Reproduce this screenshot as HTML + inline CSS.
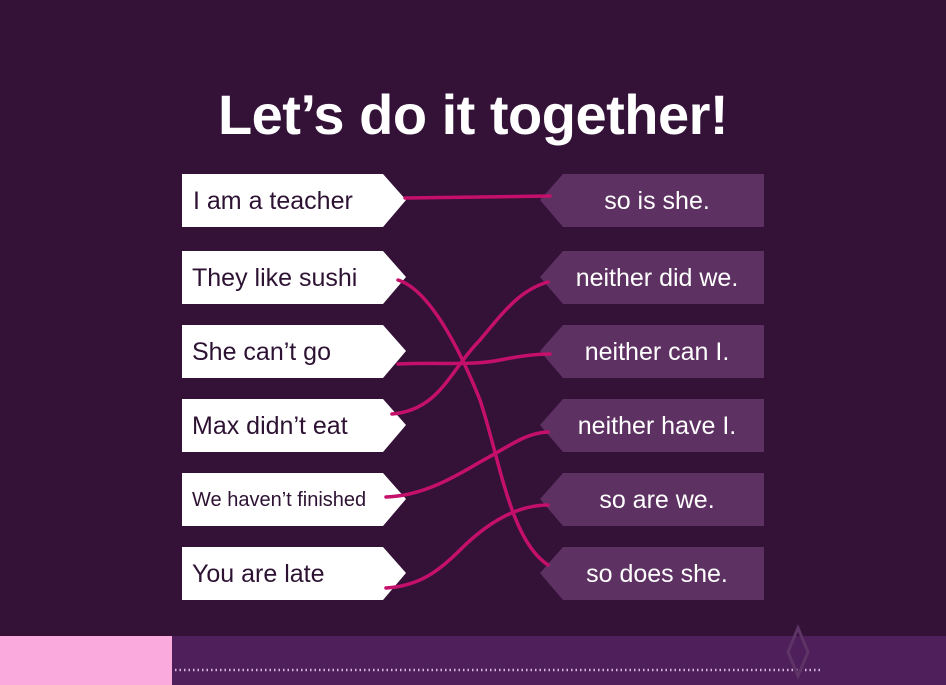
<!DOCTYPE html>
<html><head><style>
body{margin:0;width:946px;height:685px;background:#341238;overflow:hidden;position:relative;font-family:"Liberation Sans",sans-serif}
h1{position:absolute;top:82px;left:0;width:946px;text-align:center;margin:0;color:#fff;font-size:56px;font-weight:bold;letter-spacing:-0.5px}
</style></head><body>
<h1>Let’s do it together!</h1>
<svg width="946" height="685" style="position:absolute;left:0;top:0">
<g fill="#fff">
<polygon points="182,174 383,174 406,200 383,227 182,227"/>
<polygon points="182,251 383,251 406,277 383,304 182,304"/>
<polygon points="182,325 383,325 406,351 383,378 182,378"/>
<polygon points="182,399 383,399 406,425 383,452 182,452"/>
<polygon points="182,473 383,473 406,499 383,526 182,526"/>
<polygon points="182,547 383,547 406,573 383,600 182,600"/>
</g>
<g fill="#5e3163">
<polygon points="764,174 563,174 540,200 563,227 764,227"/>
<polygon points="764,251 563,251 540,277 563,304 764,304"/>
<polygon points="764,325 563,325 540,351 563,378 764,378"/>
<polygon points="764,399 563,399 540,425 563,452 764,452"/>
<polygon points="764,473 563,473 540,499 563,526 764,526"/>
<polygon points="764,547 563,547 540,573 563,600 764,600"/>
</g>
<g fill="#2d1233" font-size="25">
<text x="193" y="209">I am a teacher</text>
<text x="192" y="286">They like sushi</text>
<text x="192" y="360">She can’t go</text>
<text x="192" y="434">Max didn’t eat</text>
<text x="192" y="506" font-size="20">We haven’t finished</text>
<text x="192" y="582">You are late</text>
</g>
<g fill="#fff" font-size="25" text-anchor="middle">
<text x="657" y="209">so is she.</text>
<text x="657" y="286">neither did we.</text>
<text x="657" y="360">neither can I.</text>
<text x="657" y="434">neither have I.</text>
<text x="657" y="508">so are we.</text>
<text x="657" y="582">so does she.</text>
</g>
<g stroke="#c4106a" stroke-width="3.5" fill="none" stroke-linecap="round">
<path d="M405,198 L550,196"/>
<path d="M398,280 C430,290 460,350 480,400 C500,460 510,540 548,565"/>
<path d="M398,364 C440,362 470,366 500,360 C520,356 535,354 550,354"/>
<path d="M392,414 C440,410 450,370 480,340 C505,310 520,290 548,282"/>
<path d="M386,497 C420,496 450,480 480,462 C510,446 525,433 548,432"/>
<path d="M386,588 C420,586 440,570 460,550 C490,520 520,505 548,505"/>
</g>
<rect x="0" y="636" width="172" height="49" fill="#fbaadd"/>
<rect x="172" y="636" width="774" height="49" fill="#4f1f5b"/>
<line x1="175" y1="670" x2="822" y2="670" stroke="#d9b8e0" stroke-width="2.5" stroke-dasharray="1.5 3"/>
<path d="M798,628 L808,652 L798,676 L788,652 Z" stroke="#5e3466" stroke-width="3" fill="none"/>
</svg>
</body></html>
